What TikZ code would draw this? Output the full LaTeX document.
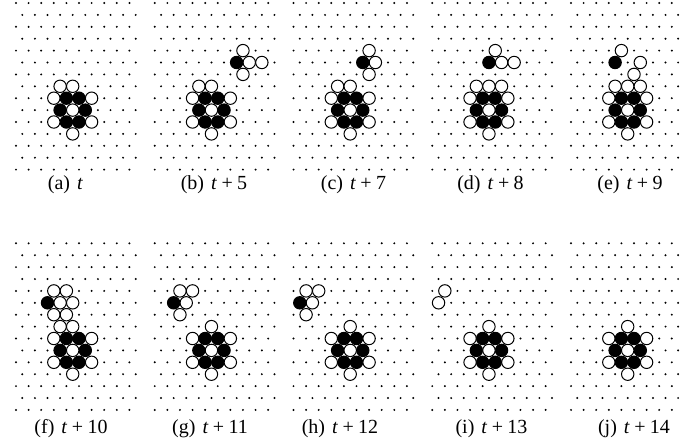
\documentclass[tikz,border=0pt]{standalone}
\usepackage{fontspec}
\setmainfont{Liberation Serif}
\usepackage{tikz}
\tikzset{
  latdot/.style={fill=black},
  wsite/.style={draw=black,fill=white,line width=0.5pt},
  bsite/.style={draw=black,fill=black,line width=0.5pt},
  subcap/.style={inner sep=0pt}
}
% triangular lattice, 10 sites per row, 15 rows, odd rows shifted
\newcommand{\lattice}{%
  \foreach \j in {0,...,14}{
    \foreach \i in {0,...,9}{
      \pgfmathsetmacro{\xx}{\i+0.5*mod(\j,2)}
      \fill[latdot] (\xx,-\j) circle[radius=0.55pt];
    }}}
% occupied sites: style, list of i/j
\newcommand{\sites}[2]{%
  \foreach \i/\j in {#2}{
    \pgfmathsetmacro{\xx}{\i+0.5*mod(\j,2)}
    \path[#1] (\xx,-\j) circle[radius=3.1pt];
  }}
\newcommand{\core}{%
  \sites{bsite}{4/8,5/8,3/9,5/9,4/10,5/10}
  \sites{wsite}{3/8,6/8,4/9,3/10,6/10,4/11}}
\newcommand{\sublab}[1]{(#1)\hspace{0.35em}}
\newcommand{\tplus}[1]{\textit{t}\hspace{0.22em}+\hspace{0.22em}#1}

\begin{document}
\begin{tikzpicture}[x=0.5pt,y=0.5pt]
  \useasboundingbox (0,0) rectangle (681,446);
  % top row
  \begin{scope}[shift={(16,443)},x=6.3pt,y=5.95pt]
    \lattice \core
    \sites{wsite}{3/7,4/7}
  \end{scope}
  \begin{scope}[shift={(154.75,443)},x=6.3pt,y=5.95pt]
    \lattice \core
    \sites{wsite}{3/7,4/7,7/4,7/5,8/5,7/6}
    \sites{bsite}{6/5}
  \end{scope}
  \begin{scope}[shift={(293.5,443)},x=6.3pt,y=5.95pt]
    \lattice \core
    \sites{wsite}{3/7,4/7,6/4,6/5,6/6}
    \sites{bsite}{5/5}
  \end{scope}
  \begin{scope}[shift={(432.25,443)},x=6.3pt,y=5.95pt]
    \lattice \core
    \sites{wsite}{3/7,4/7,5/7,5/4,5/5,6/5}
    \sites{bsite}{4/5}
  \end{scope}
  \begin{scope}[shift={(571,443)},x=6.3pt,y=5.95pt]
    \lattice \core
    \sites{wsite}{3/7,4/7,5/7,4/4,5/5,5/6}
    \sites{bsite}{3/5}
  \end{scope}
  \node[subcap] (capa) at (65.5,261) {\sublab{a}\textit{t}};
  \node[subcap] (capb) at (214,261) {\sublab{b}\tplus{5}};
  \node[subcap] (capc) at (353.5,261) {\sublab{c}\tplus{7}};
  \node[subcap] (capd) at (490.5,261) {\sublab{d}\tplus{8}};
  \node[subcap] (cape) at (630,261) {\sublab{e}\tplus{9}};
  % bottom row
  \begin{scope}[shift={(16,202.7)},x=6.3pt,y=5.95pt]
    \lattice \core
    \sites{wsite}{3/7,4/7,3/4,4/4,3/5,4/5,3/6,4/6}
    \sites{bsite}{2/5}
  \end{scope}
  \begin{scope}[shift={(154.75,202.7)},x=6.3pt,y=5.95pt]
    \lattice \core
    \sites{wsite}{4/7,2/4,3/4,2/5,2/6}
    \sites{bsite}{1/5}
  \end{scope}
  \begin{scope}[shift={(293.5,202.7)},x=6.3pt,y=5.95pt]
    \lattice \core
    \sites{wsite}{4/7,1/4,2/4,1/5,1/6}
    \sites{bsite}{0/5}
  \end{scope}
  \begin{scope}[shift={(432.25,202.7)},x=6.3pt,y=5.95pt]
    \lattice \core
    \sites{wsite}{4/7,1/4,0/5}
  \end{scope}
  \begin{scope}[shift={(571,202.7)},x=6.3pt,y=5.95pt]
    \lattice \core
    \sites{wsite}{4/7}
  \end{scope}
  \node[subcap] (capf) at (71,17) {\sublab{f}\tplus{10}};
  \node[subcap] (capg) at (210,17) {\sublab{g}\tplus{11}};
  \node[subcap] (caph) at (340,17) {\sublab{h}\tplus{12}};
  \node[subcap] (capi) at (491.5,17) {\sublab{i}\tplus{13}};
  \node[subcap] (capj) at (634,17) {\sublab{j}\tplus{14}};
\end{tikzpicture}
\end{document}
